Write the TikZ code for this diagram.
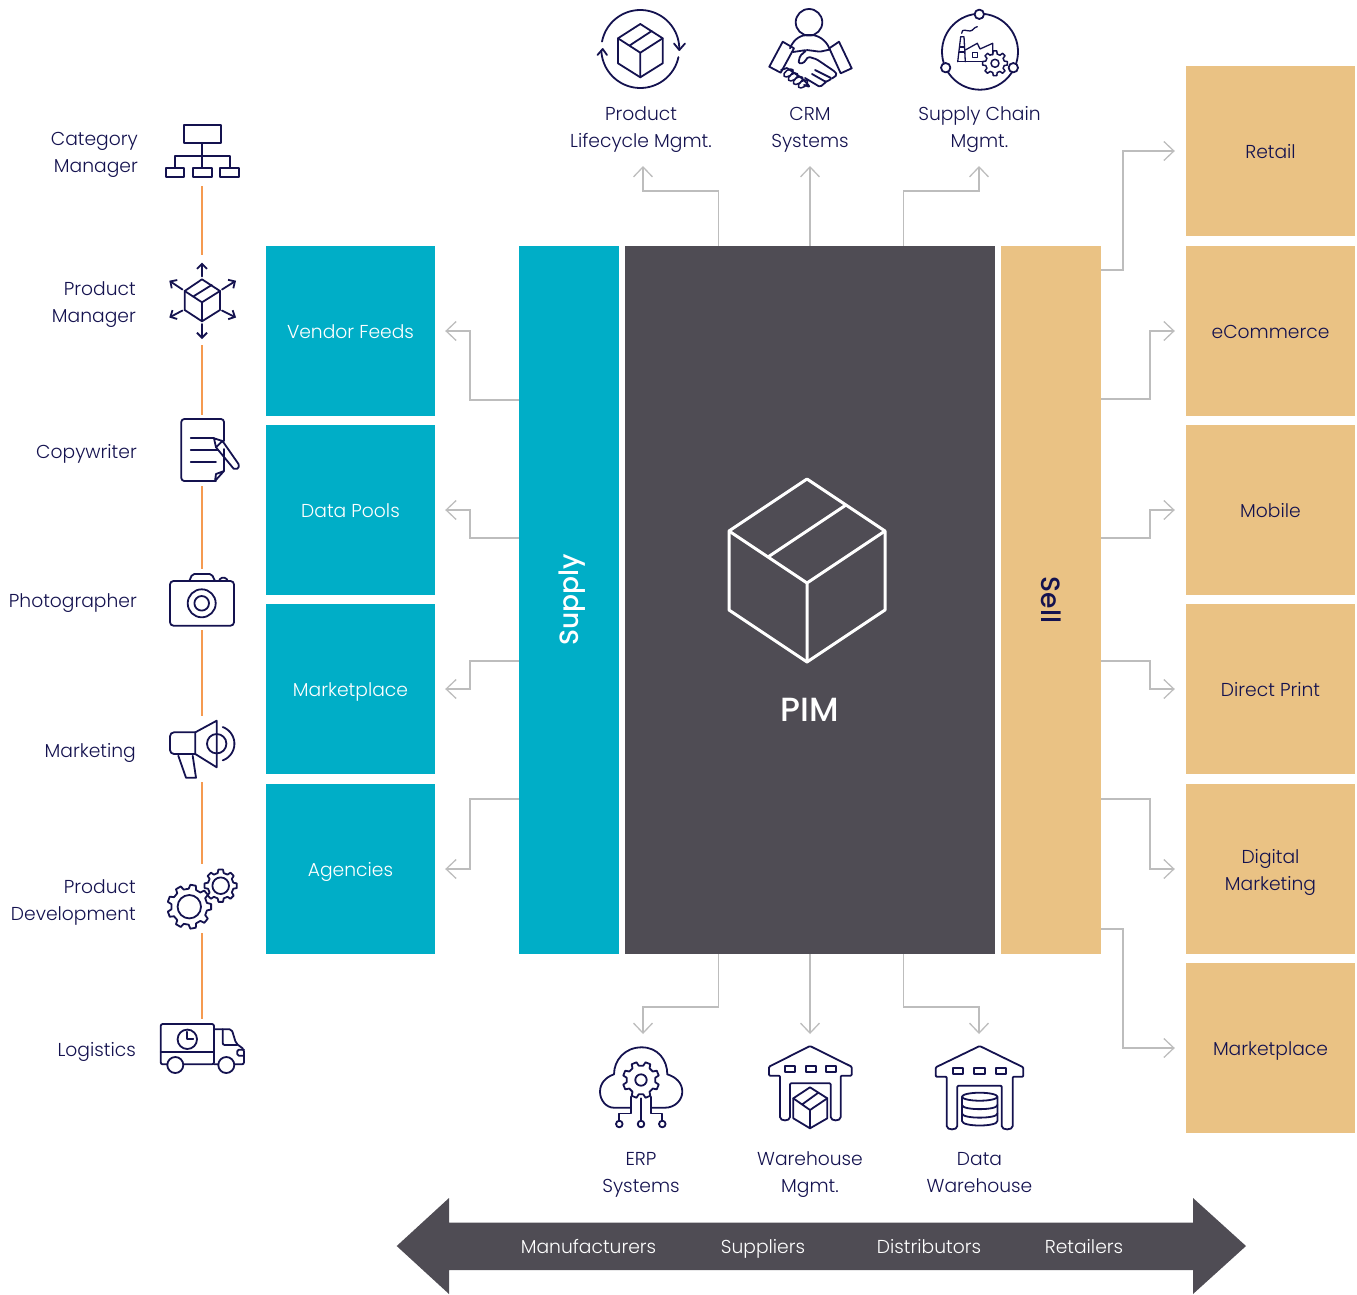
\documentclass[tikz,border=0pt]{standalone}
\usepackage{fontspec}
\setmainfont{Poppins}[UprightFont=* Light,BoldFont=* Medium]
\usetikzlibrary{arrows.meta}
\definecolor{navy}{HTML}{14124F}
\definecolor{teal2}{HTML}{00AEC7}
\definecolor{tan2}{HTML}{EAC284}
\definecolor{dark2}{HTML}{4F4C54}
\definecolor{org}{HTML}{F59A50}
\definecolor{conn2}{HTML}{BDBDBD}
\newcommand\arcp[5]{plot[domain=#4:#5,samples=40] ({#1+#3*cos(\x)},{#2+#3*sin(\x)})}
\newcommand\tstrut{\rule[-8.1pt]{0pt}{31pt}}
\newcommand\tl{\rule{0pt}{27pt}}
% gear: cx cy root outer teeth inner rot
\newcommand\geart[7]{%
  \begin{scope}[shift={(#1,#2)},rotate=0]
  \pgfmathsetmacro\gs{360/#5}
  \pgfmathsetmacro\ga{\gs*0.30}\pgfmathsetmacro\gb{\gs*0.18}
  \draw[ico,line join=round] (#7-\ga:#3)
    \foreach \i in {1,...,#5}{
      -- ({#7+(\i-1)*\gs-\gb}:#4) -- ({#7+(\i-1)*\gs+\gb}:#4) -- ({#7+(\i-1)*\gs+\ga}:#3) -- ({#7+\i*\gs-\ga}:#3)
    } -- cycle;
  \draw[ico] (0,0) circle[radius=#6pt];
  \end{scope}}
\tikzset{
  ico/.style={draw=navy,line width=1.8pt,line join=round,line cap=round},
  ifine/.style={draw=navy,line width=1.3pt,line join=round,line cap=round},
  bar/.style={-{Straight Barb[length=5pt,width=10pt]},ico},
  txt/.style={font=\fontsize{18.7}{27}\selectfont,inner sep=0pt,execute at begin node=\tstrut,execute at end node=\tstrut},
  lbl/.style={txt,text=navy,align=center},
  llbl/.style={lbl,align=right,anchor=east},
  box/.style={txt,minimum width=169pt,minimum height=170pt,align=center},
  tealbox/.style={box,fill=teal2,text=white},
  tanbox/.style={box,fill=tan2,text=navy},
  conn/.style={draw=conn2,line width=1.3pt,-{Straight Barb[length=10pt,width=19pt]},shorten >=10pt},
  connv/.style={conn,shorten >=0pt},
  orange/.style={draw=org,line width=1.5pt},
  wlbl/.style={txt,text=white},
}
\begin{document}
\begin{tikzpicture}[x=1pt,y=-1pt]
\useasboundingbox (0,0) rectangle (1357,1294);
% boxes
\node[tealbox] (vf) at (350.5,331) {Vendor Feeds};
\node[tealbox] (dp) at (350.5,510) {Data Pools};
\node[tealbox] (mp) at (350.5,689) {Marketplace};
\node[tealbox] (ag) at (350.5,869) {Agencies};
\node[fill=teal2,minimum width=100pt,minimum height=708pt,inner sep=0pt] (sup) at (569,600) {};
\node[fill=dark2,minimum width=370pt,minimum height=708pt,inner sep=0pt] (pim) at (810,600) {};
\node[fill=tan2,minimum width=100pt,minimum height=708pt,inner sep=0pt] (sell) at (1051,600) {};
\node[rotate=90,text=white,font=\fontsize{26.5}{30}\selectfont] (suplbl) at (572,600) {\textbf{Supply}};
\node[rotate=-90,text=navy,font=\fontsize{26.5}{30}\selectfont] (selllbl) at (1051.5,600) {\textbf{Sell}};
\node[text=white,font=\fontsize{33.5}{35}\selectfont] (pimlbl) at (810,710) {\textbf{PIM}};
\node[tanbox] (r1) at (1270.5,151) {Retail};
\node[tanbox] (r2) at (1270.5,331) {eCommerce};
\node[tanbox] (r3) at (1270.5,510) {Mobile};
\node[tanbox] (r4) at (1270.5,689) {Direct Print};
\node[tanbox] (r5) at (1270.5,869) {\rule{0pt}{25pt}Digital\\Marketing};
\node[tanbox] (r6) at (1270.5,1048) {Marketplace};
% big cube
\draw[white,line width=3pt,line join=round] (807,479)--(885,531)--(885,610)--(807,662)--(729,610)--(729,531)--cycle;
\draw[white,line width=3pt,line join=round] (729,531)--(807,583)--(885,531) (807,583)--(807,662) (768,557)--(846,505);
% connectors
\draw[conn] (sup.west |- 0,400) -- (470,400) |- (vf.east);
\draw[conn] (sup.west |- 0,538) -- (470,538) |- (dp.east);
\draw[conn] (sup.west |- 0,661) -- (470,661) |- (mp.east);
\draw[conn] (sup.west |- 0,799) -- (470,799) |- (ag.east);
\draw[conn,shorten >=11pt] (sell.east |- 0,270) -- (1123,270) |- (r1.west);
\draw[conn,shorten >=11pt] (sell.east |- 0,399) -- (1150,399) |- (r2.west);
\draw[conn,shorten >=11pt] (sell.east |- 0,538) -- (1150,538) |- (r3.west);
\draw[conn,shorten >=11pt] (sell.east |- 0,661) -- (1150,661) |- (r4.west);
\draw[conn,shorten >=11pt] (sell.east |- 0,799) -- (1150,799) |- (r5.west);
\draw[conn,shorten >=11pt] (sell.east |- 0,929) -- (1123,929) |- (r6.west);
% top and bottom connector ends
\coordinate (t1) at (643,166); \coordinate (t2) at (810,166); \coordinate (t3) at (979,166);
\coordinate (b1) at (643,1034); \coordinate (b2) at (810,1034); \coordinate (b3) at (979,1034);
\draw[connv] (pim.north -| 718.5,0) -- (718.5,191) -| (t1);
\draw[connv] (pim.north -| t2) -- (t2);
\draw[connv] (pim.north -| 903.5,0) -- (903.5,191) -| (t3);
\draw[connv] (pim.south -| 718.5,0) -- (718.5,1007) -| (b1);
\draw[connv] (pim.south -| b2) -- (b2);
\draw[connv] (pim.south -| 903.5,0) -- (903.5,1007) -| (b3);
% labels
\node[lbl] (tl1) at (641,125) {\tl Product\\Lifecycle Mgmt.};
\node[lbl] (tl2) at (810,125) {\tl CRM\\Systems};
\node[lbl] (tl3) at (979.5,125) {\tl Supply Chain\\Mgmt.};
\node[lbl] (bl1) at (641,1170) {\tl ERP\\Systems};
\node[lbl] (bl2) at (810,1170) {\tl Warehouse\\Mgmt.};
\node[lbl] (bl3) at (979.5,1170) {\tl Data\\Warehouse};
\node[llbl] (ll1) at (138,150) {\tl Category\\Manager};
\node[llbl] (ll2) at (136,300) {\tl Product\\Manager};
\node[llbl] (ll3) at (137,451) {Copywriter};
\node[llbl] (ll4) at (137,600) {Photographer};
\node[llbl] (ll5) at (136,750) {Marketing};
\node[llbl] (ll6) at (136,898) {\tl Product\\Development};
\node[llbl] (ll7) at (136,1049) {Logistics};
% double arrow
\fill[dark2] (396.7,1246)--(449,1198)--(449,1222.5)--(1193,1222.5)--(1193,1198)--(1246,1246)--(1193,1294)--(1193,1270)--(449,1270)--(449,1294)--cycle;
\node[wlbl] (a1) at (588.5,1246) {Manufacturers};
\node[wlbl] (a2) at (763,1246) {Suppliers};
\node[wlbl] (a3) at (929,1246) {Distributors};
\node[wlbl] (a4) at (1084,1246) {Retailers};
% orange timeline
\foreach \n/\a/\b in {1/186/255,2/345/415,3/486/569,4/630/716,5/782/864,6/933/1019}{
  \coordinate (oa\n) at (202,\a); \coordinate (ob\n) at (202,\b);
  \draw[orange] (oa\n) -- (ob\n);
}
% icon: category manager
\draw[ico] (184,125) rectangle (220.7,142.7);
\draw[ico] (202,142.7)--(202,167.5) (175,167.5)--(175,156)--(229.7,156)--(229.7,167.5);
\draw[ico] (165.7,167.7) rectangle (184.3,176.7) (192.7,167.7) rectangle (211.7,176.7) (220,167.7) rectangle (239,176.7);
% icon: product manager
\draw[ico] (202,279.3)--(220,291)--(220,310)--(202,321.3)--(184.7,310)--(184.7,291)--cycle;
\draw[ico] (184.7,291)--(202,302.3)--(220,291) (202,302.3)--(202,321.3) (194,296)--(211.7,285);
\draw[bar] (202,276.5)--(202,262.5);
\draw[bar] (202,324)--(202,339);
\draw[bar] (182.5,289.5)--(169.3,280.7);
\draw[bar] (222,289.5)--(236,280.7);
\draw[bar] (182.5,310.5)--(169.3,317.5);
\draw[bar] (222,310.5)--(236,317.5);
% icon: copywriter
\draw[ico,rounded corners=3pt] (224,441)--(224,419)--(181.3,419)--(181.3,481)--(216,481);
\draw[ico] (224,449)--(224,471)--(215,481) (215,481)--(216,474)--(224,471);
\draw[ico] (190.7,437.7)--(214,437.7) (190.7,450)--(218,450) (190.7,462)--(216,462);
\draw[ico] (214,438.3)--(222.5,441)--(238.5,464) arc[start angle=30,end angle=-120,radius=3.5pt] -- (216,447.3)--cycle (216,447.3)--(222.5,441);
% icon: photographer
\draw[ico,rounded corners=3.5pt] (170,581) rectangle (234,625.7);
\draw[ico,rounded corners=2pt] (189.3,581)--(192.3,574)--(211.7,574)--(215,581);
\draw[ico,rounded corners=1.5pt] (219,581)--(220.7,577.7)--(226,577.7)--(227.7,581);
\draw[ico] (201.7,603.3) circle[radius=14pt] (201.7,603.3) circle[radius=7.3pt];
% icon: marketing
\draw[ico,rounded corners=4pt] (195.3,732.3)--(170,732.3)--(170,754)--(195.3,754);
\draw[ico] (195.3,732.3)--(216.7,720.7)--(216.7,767.3)--(195.3,754)--cycle;
\draw[ico] (216.7,743.7) circle[radius=9.7pt];
\draw[ico] \arcp{216.7}{743.7}{17.7}{-70}{70};
\draw[ico] (178.3,755.7)--(186,777.7)--(196,777.7)--(192.7,755.7);
% icon: gears
\geart{189.3}{906.7}{18}{22}{9}{11.7}{0}
\geart{220.7}{885.7}{13}{16.3}{8}{8.3}{0}
% icon: truck
\draw[ico,rounded corners=2pt] (214,1064.3)--(160.7,1064.3)--(160.7,1024)--(214,1024)--cycle;
\draw[ico] (160.7,1051.7)--(214,1051.7);
\draw[ico] (187.3,1039.3) circle[radius=9.7pt];
\draw[ico] (187.3,1031.7)--(187.3,1039.3)--(193.3,1039.3);
\draw[ico,rounded corners=2pt] (214,1029.3)--(231.7,1029.3)--(236,1043.3)--(244,1049.3)--(244,1064.3)--(214,1064.3);
\draw[ico,rounded corners=2pt] (222.7,1029.3)--(222.7,1045)--(237.3,1045);
\draw[ico,rounded corners=1.5pt] (244,1049.7)--(237.3,1049.7)--(237.3,1055.7)--(244,1055.7);
\draw[ico,fill=white] (175.3,1065) circle[radius=8pt] (226.3,1065) circle[radius=8pt];
% icon: product lifecycle
\draw[ico] (640.3,24)--(662.7,38.3)--(662.7,63.3)--(640.3,77.3)--(618,63.3)--(618,38.3)--cycle;
\draw[ico] (618,38.3)--(640.3,52.7)--(662.7,38.3) (640.3,52.7)--(640.3,77.3) (629.3,45.7)--(651.7,31);
\draw[ico] \arcp{640.3}{49}{39}{191}{361};
\draw[ico] \arcp{640.3}{49}{39}{12}{178};
\draw[ico] (674,43.5)--(679.3,50)--(685,43.5) (597.5,55)--(602.7,49)--(607,55);
% icon: CRM
\draw[ico] (809,22.3) circle[radius=13.3pt];
\draw[ico] (790,48.3) .. controls (794,38) and (802,35) .. (807,35) -- (811,35) .. controls (818,35) and (826,40) .. (829.3,48.3);
\draw[ico] (782.7,41.7)--(794,48.3)--(780.7,72.7)--(769.3,66.7)--cycle;
\draw[ico] (829.3,48.3)--(839,41.7)--(851.7,68.3)--(840.7,73.3)--cycle;
\draw[ico,rounded corners=1.5pt] (793,52)--(806.7,50)--(800,56)--(798.3,63.3)--(803.3,63.3)--(808.3,56.7)--(816.7,59.3)--(835,71.7)--(837,75)--(832,78.5);
\draw[ico,rounded corners=1.5pt] (806.7,50)--(820,51.7)--(830,49.5);
\draw[ico,rounded corners=1.5pt] (815,70)--(832,78.5)--(826,82)--(812,74) (826,82)--(820,87)--(805,78);
\draw[ico,rounded corners=2pt] (781,70)--(787,68) (787,68)--(803,79)--(810,87)--(804,85);
\draw[ifine,line width=1.5pt,rotate around={35:(788.5,73)}] (788.5,73) ellipse[x radius=5.5pt,y radius=3pt];
\draw[ifine,line width=1.5pt,rotate around={35:(793,77)}] (793,77) ellipse[x radius=5.5pt,y radius=3pt];
\draw[ifine,line width=1.5pt,rotate around={35:(798,80.5)}] (798,80.5) ellipse[x radius=5.5pt,y radius=3pt];
\draw[ifine,line width=1.5pt,rotate around={35:(803,84)}] (803,84) ellipse[x radius=5.5pt,y radius=3pt];
% icon: supply chain
\draw[ico] (980,51.7) circle[radius=38pt];
\draw[ico,fill=white] (979.3,14.3) circle[radius=4.7pt] (945.7,67.7) circle[radius=4.7pt] (1013.3,67.7) circle[radius=4.7pt];
\draw[ifine] (957.7,61.7)--(960.7,36.7)--(964,36.7)--(965.3,61.7);
\draw[ifine] (961.7,33.3) .. controls (962,28) and (966,31) .. (970,31) .. controls (973,31) and (974,27) .. (977.3,26.7);
\draw[ifine] (965.3,50)--(977.3,43.3)--(980,49)--(992.7,43.3)--(992.7,55);
\draw[ifine] (957.7,61.7)--(983.3,61.7);
\draw[ifine] (972.7,52.7) rectangle (977.3,57.3);
\draw[ifine] (959.5,47)--(964.5,47) (959.2,52)--(965,52);
\begin{scope}[ico/.append style={line width=1.5pt}]
\geart{995}{63.3}{9.5}{12.5}{8}{4}{0}
\end{scope}
% icon: ERP
\draw[ico] (631,1107.7)--(614,1107.7) .. controls (606,1107.7) and (600,1100) .. (600,1091.7) .. controls (600,1083) and (606,1077) .. (614,1074.3) .. controls (614,1060) and (625,1047.3) .. (641.7,1047.3) .. controls (658,1047.3) and (667.3,1060) .. (667.3,1074.3) .. controls (676,1077) and (682.3,1083) .. (682.3,1091.7) .. controls (682.3,1100) and (675,1107.7) .. (665,1107.7) -- (651,1107.7);
\geart{641}{1080}{14.5}{18.3}{8}{5.7}{22.5}
\draw[ico] (641,1098.3)--(641,1120.7) (631,1096.7)--(631,1113.5)--(619.3,1113.5)--(619.3,1120.7) (651,1096.7)--(651,1113.5)--(662.3,1113.5)--(662.3,1120.7);
\draw[ico] (641,1124) circle[radius=3.3pt] (619.3,1124) circle[radius=3.3pt] (662.3,1124) circle[radius=3.3pt];
% icon: warehouse mgmt
\draw[ico,rounded corners=1pt] (810,1046)--(851.7,1066.7)--(851.7,1075.7)--(840.7,1075.7)--(840.7,1116) .. controls (840.7,1121.5) and (830.7,1121.5) .. (830.7,1116)--(830.7,1083.3)--(790,1083.3)--(790,1116) .. controls (790,1121.5) and (780,1121.5) .. (780,1116)--(780,1075.7)--(769,1075.7)--(769,1066.7)--cycle;
\draw[ico] (785,1066) rectangle (795,1071.7) (805.7,1066) rectangle (815.7,1071.7) (826,1066) rectangle (835.7,1071.7);
\draw[ico,fill=white] (810,1087.3)--(827.3,1098.3)--(827.3,1118.3)--(810,1128.3)--(793.3,1118.3)--(793.3,1098.3)--cycle;
\draw[ico] (793.3,1098.3)--(810,1110)--(827.3,1098.3) (810,1110)--(810,1128.3) (802.7,1104)--(818.3,1092.7);
% icon: data warehouse
\draw[ico,rounded corners=1pt] (979.7,1046)--(1023.3,1067.3)--(1023.3,1076.7)--(1012.7,1076.7)--(1012.7,1125) .. controls (1012.7,1130.5) and (1001.7,1130.5) .. (1001.7,1125)--(1001.7,1085.7)--(957.3,1085.7)--(957.3,1125) .. controls (957.3,1130.5) and (946.7,1130.5) .. (946.7,1125)--(946.7,1076.7)--(935.7,1076.7)--(935.7,1067.3)--cycle;
\draw[ico] (953,1067.7) rectangle (963.3,1074) (974.3,1067.7) rectangle (985,1074) (996,1067.7) rectangle (1006.3,1074);
\draw[ico] (979.7,1096.7) ellipse[x radius=17.7pt,y radius=4pt];
\draw[ico] (962,1096.7)--(962,1121) .. controls (962,1127) and (997.4,1127) .. (997.4,1121)--(997.4,1096.7);
\draw[ico] (962,1105) .. controls (962,1110.5) and (997.4,1110.5) .. (997.4,1105);
\draw[ico] (962,1113.5) .. controls (962,1119) and (997.4,1119) .. (997.4,1113.5);
\end{tikzpicture}
\end{document}
